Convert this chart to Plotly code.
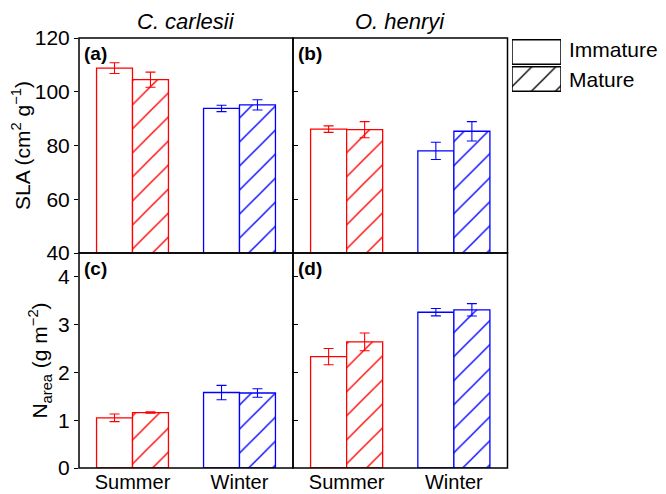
import plotly.graph_objects as go

# ---- data ----
seasons = ["Summer", "Winter"]
species = ["C. carlesii", "O. henryi"]
panel_labels = ["(a)", "(b)", "(c)", "(d)"]

sla_cc_imm = [108.8, 93.8]
sla_cc_imm_err = [2.0, 1.2]
sla_cc_mat = [104.5, 95.1]
sla_cc_mat_err = [2.8, 1.9]

sla_oh_imm = [86.1, 78.0]
sla_oh_imm_err = [1.2, 3.2]
sla_oh_mat = [85.9, 85.3]
sla_oh_mat_err = [3.0, 3.6]

n_cc_imm = [1.05, 1.58]
n_cc_imm_err = [0.08, 0.15]
n_cc_mat = [1.16, 1.57]
n_cc_mat_err = [0.015, 0.09]

n_oh_imm = [2.33, 3.26]
n_oh_imm_err = [0.17, 0.077]
n_oh_mat = [2.64, 3.31]
n_oh_mat_err = [0.185, 0.13]

legend_labels = ["Immature", "Mature"]
season_colors = ["#FF0000", "#0000FF"]

# the page body has an 8px margin; figure is sized to fit the window
OFF = 8
W, H = 666 - OFF, 494 - OFF
FONT = "Liberation Sans, Arial, sans-serif"


def px(X):
    return (X - OFF) / W


def py(Y):
    return 1 - (Y - OFF) / H


fig = go.Figure()

panels = [
    ("x", "y", sla_cc_imm, sla_cc_imm_err, sla_cc_mat, sla_cc_mat_err),
    ("x2", "y2", sla_oh_imm, sla_oh_imm_err, sla_oh_mat, sla_oh_mat_err),
    ("x3", "y3", n_cc_imm, n_cc_imm_err, n_cc_mat, n_cc_mat_err),
    ("x4", "y4", n_oh_imm, n_oh_imm_err, n_oh_mat, n_oh_mat_err),
]

BW = 0.336
for xa, ya, imm, imm_e, mat, mat_e in panels:
    for i, s in enumerate(seasons):
        c = season_colors[i]
        fig.add_trace(go.Bar(
            x=[s], y=[imm[i]], xaxis=xa, yaxis=ya,
            width=[BW], offset=[-BW],
            marker=dict(color="white", line=dict(color=c, width=1.3)),
            error_y=dict(type="data", array=[imm_e[i]], color=c, thickness=1.1, width=5),
            showlegend=False, hoverinfo="skip"))
        fig.add_trace(go.Bar(
            x=[s], y=[mat[i]], xaxis=xa, yaxis=ya,
            width=[BW], offset=[0],
            marker=dict(color="white", line=dict(color=c, width=1.3),
                        pattern=dict(shape="/", fgcolor=c, bgcolor="white",
                                     size=17, solidity=0.08, fillmode="replace")),
            error_y=dict(type="data", array=[mat_e[i]], color=c, thickness=1.1, width=5),
            showlegend=False, hoverinfo="skip"))

# legend boxes as bars on a small dedicated axis
fig.add_trace(go.Bar(
    y=[1], x=[1], orientation="h", xaxis="x5", yaxis="y5", width=0.9,
    marker=dict(color="white", line=dict(color="black", width=1.5)),
    showlegend=False, hoverinfo="skip"))
fig.add_trace(go.Bar(
    y=[0], x=[1], orientation="h", xaxis="x5", yaxis="y5", width=0.9,
    marker=dict(color="white", line=dict(color="black", width=1.5),
                pattern=dict(shape="/", fgcolor="black", bgcolor="white",
                             size=17, solidity=0.08, fillmode="replace")),
    showlegend=False, hoverinfo="skip"))

xl = [px(79), px(293)]
xr = [px(293), px(507.5)]
yt = [py(253), py(38)]
yb = [py(468), py(253)]

noframe = dict(showline=False, showgrid=False, zeroline=False, automargin=False)
tickfont = dict(family=FONT, size=21, color="black")


def xax(domain, anchor, labels):
    return dict(domain=domain, anchor=anchor, type="category",
                categoryorder="array", categoryarray=seasons,
                range=[-0.5, 1.5], showticklabels=labels, ticks="",
                tickfont=dict(family=FONT, size=20, color="black"), **noframe)


tick_out = dict(ticks="outside", ticklen=4, tickwidth=1.2, tickcolor="black")
tick_in = dict(ticks="inside", ticklen=5, tickwidth=1.2, tickcolor="black")

fig.update_layout(
    width=W, height=H,
    margin=dict(l=0, r=0, t=0, b=0, autoexpand=False),
    paper_bgcolor="white", plot_bgcolor="white",
    barmode="overlay",
    font=dict(family=FONT, color="black"),
    xaxis=xax(xl, "y", False),
    xaxis2=xax(xr, "y2", False),
    xaxis3=xax(xl, "y3", True),
    xaxis4=xax(xr, "y4", True),
    yaxis=dict(domain=yt, anchor="x", range=[40, 120], dtick=20, **tick_out,
               tickfont=tickfont, **noframe,
               title=dict(text="SLA (cm<sup>2</sup> g<sup>−1</sup>)",
                          font=dict(family=FONT, size=21), standoff=2)),
    yaxis2=dict(domain=yt, anchor="x2", range=[40, 120], dtick=20, **tick_in,
                showticklabels=False, **noframe),
    yaxis3=dict(domain=yb, anchor="x3", range=[0, 4.5], dtick=1, **tick_out,
                tickfont=tickfont, **noframe,
                title=dict(text="N<sub>area</sub> (g m<sup>−2</sup>)",
                           font=dict(family=FONT, size=21), standoff=4)),
    yaxis4=dict(domain=yb, anchor="x4", range=[0, 4.5], dtick=1, **tick_in,
                showticklabels=False, **noframe),
    xaxis5=dict(domain=[px(512), px(561)], anchor="y5", range=[0, 1],
                visible=False, fixedrange=True, automargin=False),
    yaxis5=dict(domain=[py(92.5), py(38.5)], anchor="x5", range=[-0.5, 1.5],
                visible=False, fixedrange=True, automargin=False),
)

# panel frames
shapes = []
for dx, dy in [(xl, yt), (xr, yt), (xl, yb), (xr, yb)]:
    shapes.append(dict(type="rect", xref="paper", yref="paper",
                       x0=dx[0], x1=dx[1], y0=dy[0], y1=dy[1],
                       line=dict(color="black", width=1.5), layer="above"))

ann = []
# column titles
for sp, dom in zip(species, [xl, xr]):
    ann.append(dict(text=f"<i>{sp}</i>", x=(dom[0] + dom[1]) / 2, y=py(21),
                    xref="paper", yref="paper", showarrow=False,
                    xanchor="center", yanchor="middle",
                    font=dict(family=FONT, size=22, color="black")))
# panel labels
pos = [(xl, yt), (xr, yt), (xl, yb), (xr, yb)]
for lab, (dx, dy) in zip(panel_labels, pos):
    ann.append(dict(text=f"<b>{lab}</b>", x=dx[0] + 3 / W, y=dy[1] - 3 / H,
                    xref="paper", yref="paper", showarrow=False,
                    xanchor="left", yanchor="top",
                    font=dict(family=FONT, size=19, color="black")))
# legend text
for lab, yc in zip(legend_labels, [50, 79]):
    ann.append(dict(text=lab, x=px(567), y=py(yc), xref="paper", yref="paper",
                    showarrow=False, xanchor="left", yanchor="middle",
                    font=dict(family=FONT, size=21, color="black")))
fig.update_layout(annotations=ann, shapes=shapes)

fig.write_html("out.html")
